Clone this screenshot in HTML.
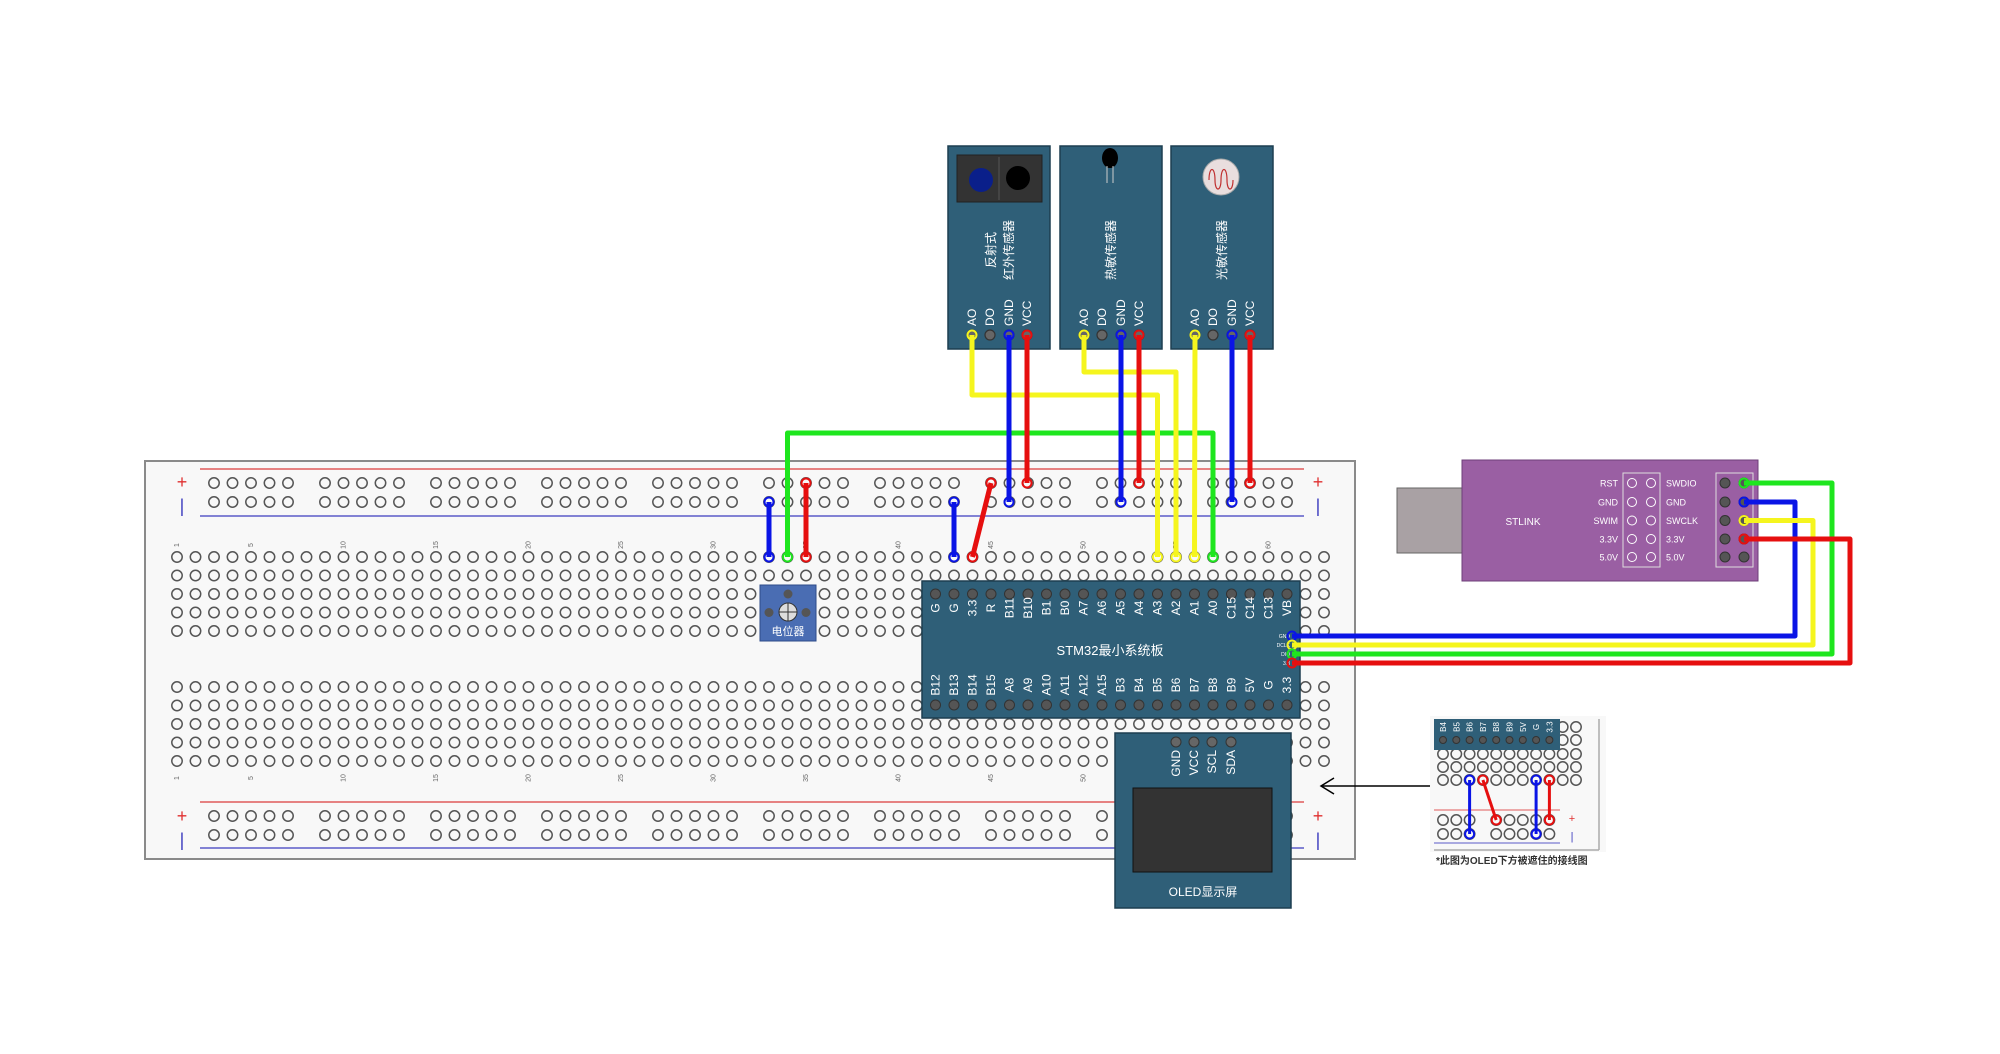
<!DOCTYPE html>
<html><head><meta charset="utf-8"><style>
html,body{margin:0;padding:0;background:#fff;width:2000px;height:1054px;overflow:hidden}
svg{display:block}
text{font-family:"Liberation Sans","Noto Sans CJK SC",sans-serif}
</style></head><body>
<svg id="s" width="2000" height="1054" xmlns="http://www.w3.org/2000/svg">
<rect x="145" y="461" width="1210" height="398" fill="#f8f8f8" stroke="#8a8a8a" stroke-width="2"/>
<g id="bb"></g>
</svg>
<script>
const NS="http://www.w3.org/2000/svg";const S=document.getElementById('s');
function el(t,a,p,txt){const e=document.createElementNS(NS,t);for(const k in a)e.setAttribute(k,a[k]);if(txt!==undefined)e.textContent=txt;(p||S).appendChild(e);return e;}
const cx=c=>177+(c-1)*18.5;
const topRows=[557,575.5,594,612.5,631],botRows=[687,705.5,724,742.5,761];
const g=document.getElementById('bb');
function hole(x,y,p){el('circle',{cx:x,cy:y,r:5.2,fill:'none',stroke:'#555','stroke-width':1.5},p||g);}
for(let c=1;c<=63;c++){for(const y of topRows.concat(botRows))hole(cx(c),y);}
for(const ry of [[483,502],[816,835]]){for(let k=0;k<10;k++)for(let i=0;i<5;i++){const x=214+k*111+i*18.5;hole(x,ry[0]);hole(x,ry[1]);}}
el('line',{x1:200,y1:469,x2:1304,y2:469,stroke:'#e05a5a','stroke-width':1.5});
el('line',{x1:200,y1:516,x2:1304,y2:516,stroke:'#5a5ac8','stroke-width':1.5});
el('line',{x1:200,y1:802,x2:1304,y2:802,stroke:'#e05a5a','stroke-width':1.5});
el('line',{x1:200,y1:848,x2:1304,y2:848,stroke:'#5a5ac8','stroke-width':1.5});
for(const[x,y,t,c]of[[182,488,'+','#e03030'],[182,512,'|','#4040c0'],[1318,488,'+','#e03030'],[1318,512,'|','#4040c0'],[182,822,'+','#e03030'],[182,846,'|','#4040c0'],[1318,822,'+','#e03030'],[1318,846,'|','#4040c0']])el('text',{x:x,y:y,'font-size':18,fill:c,'text-anchor':'middle'},S,t);
for(const n of [1,5,10,15,20,25,30,35,40,45,50,55,60]){for(const y of [545,778])el('text',{x:0,y:0,'font-size':7,fill:'#666','text-anchor':'middle',transform:`translate(${cx(n)+2},${y}) rotate(-90)`},S,String(n));}
function wire(pts,col,w){el('polyline',{points:pts.map(p=>p.join(',')).join(' '),fill:'none',stroke:col,'stroke-width':w||5,'stroke-linejoin':'round'});
 for(const p of [pts[0],pts[pts.length-1]])el('circle',{cx:p[0],cy:p[1],r:4.5,fill:'none',stroke:col,'stroke-width':2});}
function sensor(x){el('rect',{x:x,y:146,width:102,height:203,fill:'#2f5f78',stroke:'#1d3e50','stroke-width':1.5});
 const px=[x+24,x+42,x+61,x+79],lb=['AO','DO','GND','VCC'];
 px.forEach((p,i)=>{el('text',{x:0,y:0,'font-size':12,fill:'#fff',transform:`translate(${p+4},${326}) rotate(-90)`},S,lb[i]);
 el('circle',{cx:p,cy:335,r:5,fill:'#666',stroke:'#333','stroke-width':1.2});});return px;}
const s1=sensor(948),s2=sensor(1060),s3=sensor(1171);
el('rect',{x:957,y:155,width:85,height:47,fill:'#333',stroke:'#222'});
el('line',{x1:999,y1:157,x2:999,y2:200,stroke:'#555'});
el('circle',{cx:981,cy:180,r:12,fill:'#0a1f8a'});el('circle',{cx:1018,cy:178,r:12,fill:'#000'});
el('ellipse',{cx:1110,cy:158,rx:8,ry:10,fill:'#000'});
el('line',{x1:1107,y1:166,x2:1107,y2:183,stroke:'#ccc'});el('line',{x1:1113,y1:166,x2:1113,y2:183,stroke:'#ccc'});
el('circle',{cx:1221,cy:177,r:18,fill:'#e9dede',stroke:'#aaa'});
el('path',{d:'M1209,180 c0,-14 6,-14 6,0 c0,12 6,12 6,0 c0,-14 6,-14 6,0 c0,12 6,12 6,0',fill:'none',stroke:'#c03030','stroke-width':1.2});
function vt(x,y,t,fs){el('text',{x:0,y:0,'font-size':fs||12,fill:'#fff','text-anchor':'middle',transform:`translate(${x},${y}) rotate(-90)`},S,t);}
vt(995,250,'反射式');vt(1013,250,'红外传感器');vt(1115,250,'热敏传感器');vt(1226,250,'光敏传感器');
el('rect',{x:922,y:581,width:378,height:137,fill:'#2f5f78',stroke:'#1d3e50','stroke-width':1.5});
const tl=['G','G','3.3','R','B11','B10','B1','B0','A7','A6','A5','A4','A3','A2','A1','A0','C15','C14','C13','VB'];
const bl=['B12','B13','B14','B15','A8','A9','A10','A11','A12','A15','B3','B4','B5','B6','B7','B8','B9','5V','G','3.3'];
for(let i=0;i<20;i++){const x=cx(42+i);
 el('circle',{cx:x,cy:594,r:5,fill:'#555',stroke:'#333'});el('circle',{cx:x,cy:705,r:5,fill:'#555',stroke:'#333'});
 el('text',{x:0,y:0,'font-size':12,fill:'#fff','text-anchor':'middle',transform:`translate(${x+4},608) rotate(-90)`},S,tl[i]);
 el('text',{x:0,y:0,'font-size':12,fill:'#fff','text-anchor':'middle',transform:`translate(${x+4},685) rotate(-90)`},S,bl[i]);}
el('text',{x:1110,y:655,'font-size':13,fill:'#fff','text-anchor':'middle'},S,'STM32最小系统板');
[['GND',636],['DCLK',645],['DIO',654],['3.3',663]].forEach(a=>el('text',{x:1290,y:a[1]+2,'font-size':5,fill:'#fff','text-anchor':'end'},S,a[0]));
el('rect',{x:1115,y:733,width:176,height:175,fill:'#2f5f78',stroke:'#1d3e50','stroke-width':1.5});
[['GND',1176],['VCC',1194],['SCL',1212],['SDA',1231]].forEach(a=>{el('circle',{cx:a[1],cy:742,r:5,fill:'#666',stroke:'#333'});
 el('text',{x:0,y:0,'font-size':12,fill:'#fff','text-anchor':'end',transform:`translate(${a[1]+4},750) rotate(-90)`},S,a[0]);});
el('rect',{x:1133,y:788,width:139,height:84,fill:'#333',stroke:'#111'});
el('text',{x:1203,y:896,'font-size':12,fill:'#fff','text-anchor':'middle'},S,'OLED显示屏');
el('rect',{x:760,y:585,width:56,height:56,fill:'#4a6db3',stroke:'#2d4a88'});
el('circle',{cx:788,cy:594,r:4.5,fill:'#555'});el('circle',{cx:769,cy:612.5,r:4.5,fill:'#555'});el('circle',{cx:806,cy:612.5,r:4.5,fill:'#555'});
el('circle',{cx:788,cy:612,r:9,fill:'#ddd',stroke:'#333'});
el('line',{x1:779,y1:612,x2:797,y2:612,stroke:'#333'});el('line',{x1:788,y1:603,x2:788,y2:621,stroke:'#333'});
el('text',{x:788,y:635,'font-size':11,fill:'#fff','text-anchor':'middle'},S,'电位器');
el('rect',{x:1397,y:488,width:65,height:65,fill:'#a9a1a4',stroke:'#666'});
el('rect',{x:1462,y:460,width:296,height:121,fill:'#9a5fa3',stroke:'#6d3f78'});
el('text',{x:1523,y:525,'font-size':10,fill:'#fff','text-anchor':'middle'},S,'STLINK');
el('rect',{x:1623,y:473,width:37,height:94,fill:'none',stroke:'#ddd'});
el('rect',{x:1716,y:473,width:37,height:94,fill:'none',stroke:'#ddd'});
const L=['RST','GND','SWIM','3.3V','5.0V'],R=['SWDIO','GND','SWCLK','3.3V','5.0V'];
[483,502,520.5,539,557].forEach((y,i)=>{el('text',{x:1618,y:y+3.5,'font-size':9,fill:'#fff','text-anchor':'end'},S,L[i]);
 el('text',{x:1666,y:y+3.5,'font-size':9,fill:'#fff'},S,R[i]);
 el('circle',{cx:1632,cy:y,r:4.5,fill:'none',stroke:'#fff'});el('circle',{cx:1651,cy:y,r:4.5,fill:'none',stroke:'#fff'});
 el('circle',{cx:1725,cy:y,r:5,fill:'#555',stroke:'#333'});el('circle',{cx:1744,cy:y,r:5,fill:'#555',stroke:'#333'});});
wire([[cx(43),502],[cx(43),557]],'#0a14e6');
wire([[cx(45),483],[cx(44),557]],'#e60f0f');
wire([[cx(33),502],[cx(33),557]],'#0a14e6');
wire([[cx(35),483],[cx(35),557]],'#e60f0f');
wire([[cx(34),557],[cx(34),433],[cx(57),433],[cx(57),557]],'#1ee61e');
wire([[s1[0],335],[s1[0],395],[cx(54),395],[cx(54),557]],'#f5f51e');
wire([[s2[0],335],[s2[0],372],[cx(55),372],[cx(55),557]],'#f5f51e');
wire([[s3[0],335],[cx(56),557]],'#f5f51e');
wire([[s1[2],335],[s1[2],502]],'#0a14e6');wire([[s1[3],335],[s1[3],483]],'#e60f0f');
wire([[s2[2],335],[s2[2],502]],'#0a14e6');wire([[s2[3],335],[s2[3],483]],'#e60f0f');
wire([[s3[2],335],[s3[2],502]],'#0a14e6');wire([[s3[3],335],[s3[3],483]],'#e60f0f');
wire([[1292,636],[1795,636],[1795,502],[1744,502]],'#0a14e6');
wire([[1292,645],[1813,645],[1813,520.5],[1744,520.5]],'#f5f51e');
wire([[1292,654],[1832,654],[1832,483],[1744,483]],'#1ee61e');
wire([[1292,663],[1850,663],[1850,539],[1744,539]],'#e60f0f');
el('line',{x1:1437,y1:786,x2:1322,y2:786,stroke:'#000','stroke-width':1.5});
el('polyline',{points:'1334,778 1321,786 1334,794',fill:'none',stroke:'#000','stroke-width':1.5});
el('rect',{x:1430,y:716,width:176,height:136,fill:'#f8f8f8'});
el('line',{x1:1599,y1:719,x2:1599,y2:850,stroke:'#aaa','stroke-width':1.5});
el('line',{x1:1434,y1:850,x2:1599,y2:850,stroke:'#aaa','stroke-width':1.5});
const ix=k=>1443+k*13.3;
for(let k=0;k<11;k++)for(const y of [740,754,767,780])hole(ix(k),y,S);
hole(ix(9),727,S);hole(ix(10),727,S);
for(const k of [0,1,2,4,5,6,7,8]){hole(ix(k),820,S);hole(ix(k),834,S);}
el('line',{x1:1434,y1:810,x2:1560,y2:810,stroke:'#e05a5a'});el('line',{x1:1434,y1:843,x2:1560,y2:843,stroke:'#5a5ac8'});
el('text',{x:1572,y:822,'font-size':11,fill:'#e03030','text-anchor':'middle'},S,'+');
el('text',{x:1572,y:840,'font-size':11,fill:'#4040c0','text-anchor':'middle'},S,'|');
el('rect',{x:1434,y:719,width:126,height:31,fill:'#2f5f78'});
['B4','B5','B6','B7','B8','B9','5V','G','3.3'].forEach((t,k)=>{el('circle',{cx:ix(k),cy:740,r:3.5,fill:'#555',stroke:'#333'});
 el('text',{x:0,y:0,'font-size':8,fill:'#fff','text-anchor':'middle',transform:`translate(${ix(k)+3},727) rotate(-90)`},S,t);});
wire([[ix(2),780],[ix(2),834]],'#0a14e6',3);wire([[ix(3),780],[ix(4),820]],'#e60f0f',3);
wire([[ix(7),780],[ix(7),834]],'#0a14e6',3);wire([[ix(8),780],[ix(8),820]],'#e60f0f',3);
el('text',{x:1436,y:864,'font-size':10,'font-weight':'bold',fill:'#333'},S,'*此图为OLED下方被遮住的接线图');
</script>
</body></html>
